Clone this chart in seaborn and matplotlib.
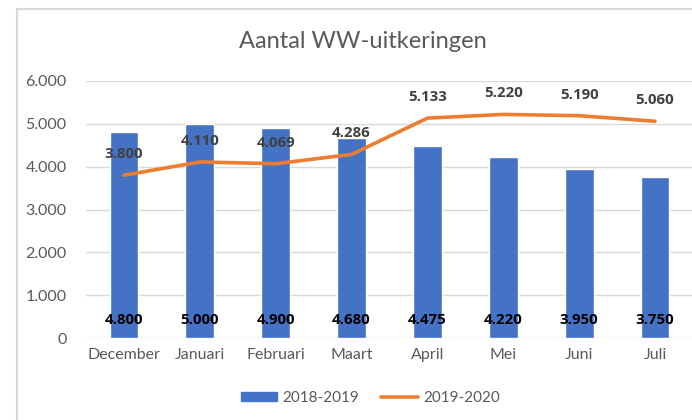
import numpy as np
import pandas as pd
import matplotlib
matplotlib.use("Agg")
import matplotlib.pyplot as plt
import matplotlib.patches as mpatches
from matplotlib.lines import Line2D
from matplotlib.font_manager import FontProperties
import seaborn as sns

months = ["December", "Januari", "Februari", "Maart", "April", "Mei", "Juni", "Juli"]
series_2018 = [4800, 5000, 4900, 4680, 4475, 4220, 3950, 3750]
series_2019 = [3800, 4110, 4069, 4286, 5133, 5220, 5190, 5060]
yticks = [0, 1000, 2000, 3000, 4000, 5000, 6000]
ytick_labels = ["0", "1.000", "2.000", "3.000", "4.000", "5.000", "6.000"]
title = "Aantal WW-uitkeringen"
legend_labels = ["2018-2019", "2019-2020"]

BLUE = "#4472C4"
ORANGE = "#ED7D31"
GRAY = "#595959"
GRID = "#D9D9D9"

sns.set_style("white")
plt.rcParams["font.family"] = ["Lato", "DejaVu Sans"]

def fmt(v):
    return f"{v:,}".replace(",", ".")

df = pd.DataFrame({"month": months, "a": series_2018, "b": series_2019, "idx": np.arange(len(months))})

fig = plt.figure(figsize=(6.92, 4.2), dpi=100)
ax = fig.add_axes([86/692, 1-338/420, 607/692, (338-81)/420])

sns.barplot(data=df, x="month", y="a", color=BLUE, width=0.38, saturation=1, ax=ax, zorder=2)
sns.lineplot(data=df, x="idx", y="b", color=ORANGE, lw=2.6, ax=ax, zorder=3)

ax.set_xlim(-0.5, len(months) - 0.5)
ax.set_ylim(0, 6000)
ax.set_yticks(yticks)
ax.set_yticklabels(ytick_labels)
ax.set_xticks(np.arange(len(months)))
ax.set_xticklabels(months)
ax.set_xlabel("")
ax.set_ylabel("")
for s in ax.spines.values():
    s.set_visible(False)
ax.grid(axis="y", color=GRID, lw=1, zorder=0)
ax.set_axisbelow(True)
ax.tick_params(axis="both", length=0, colors=GRAY, labelsize=11.5)
ax.tick_params(axis="x", pad=7)
ax.tick_params(axis="y", pad=14)

label_fp = FontProperties(family=["Open Sans", "DejaVu Sans"], weight="bold", stretch="normal", size=10.8)
for i, v in enumerate(series_2018):
    ax.text(i, 420, fmt(v), ha="center", va="center", color="black", zorder=4, fontproperties=label_fp)
for i, v in enumerate(series_2019):
    ax.annotate(fmt(v), (i, v), xytext=(0, 21), textcoords="offset pixels",
                ha="center", va="center", color="#404040", zorder=4, fontproperties=label_fp)

fig.text(0.525, 1-42/420, title, ha="center", va="center", fontsize=17, color=GRAY, fontweight="normal")

handles = [mpatches.Patch(color=BLUE), Line2D([0], [0], color=ORANGE, lw=2.6)]
fig.legend(handles, legend_labels, loc="center", bbox_to_anchor=(0.535, 1-398/420), ncol=2,
           frameon=False, fontsize=11, labelcolor=GRAY, handlelength=2.4, handleheight=0.5,
           columnspacing=1.4, handletextpad=0.35)

fig.add_artist(mpatches.Rectangle((17/692, -0.05), 1.2, (420-9)/420 + 0.05, transform=fig.transFigure,
                                  fill=False, edgecolor=GRID, lw=1.5))

fig.savefig("out.png", dpi=100)
